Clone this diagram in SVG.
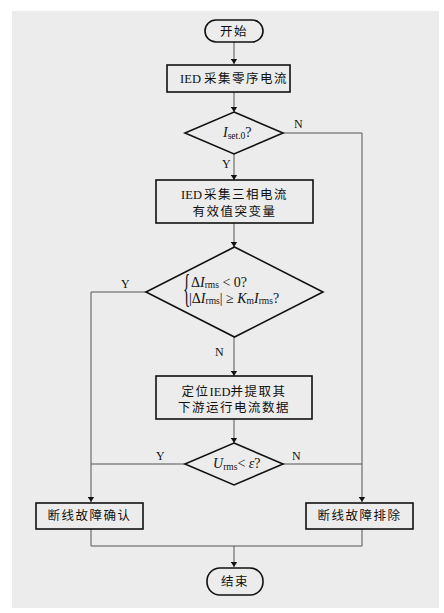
<svg xmlns="http://www.w3.org/2000/svg" width="444" height="613" viewBox="0 0 444 613">
<style>
.node{fill:none;stroke:#111;stroke-width:1.6}
.con{fill:none;stroke:#555;stroke-width:1}
.cn{font-family:"Liberation Serif","Noto Sans CJK SC",serif;font-size:12.5px;fill:#111;letter-spacing:1.5px}
.lat{letter-spacing:0}
.lb{font-family:"Liberation Serif",serif;font-size:12px;fill:#111}
.m{font-family:"Liberation Serif",serif;font-size:14px;fill:#111}
.it{font-style:italic}
.sub{font-size:9.5px}
</style>
<defs>
<marker id="ar" viewBox="0 0 8 10" refX="8" refY="5" markerWidth="5" markerHeight="7" orient="auto" markerUnits="userSpaceOnUse">
<path d="M0,0 L8,5 L0,10 z" fill="#111"/>
</marker>
</defs>
<rect x="12" y="11" width="427" height="597" fill="#ececec"/>
<g id="connectors">
<line class="con" x1="234" y1="42" x2="234" y2="64" marker-end="url(#ar)"/>
<line class="con" x1="234" y1="92" x2="234" y2="112" marker-end="url(#ar)"/>
<polyline class="con" points="283,133 362,133 362,502" marker-end="url(#ar)"/>
<line class="con" x1="234" y1="154" x2="234" y2="180" marker-end="url(#ar)"/>
<line class="con" x1="234" y1="223" x2="234" y2="247" marker-end="url(#ar)"/>
<polyline class="con" points="146,292 91,292 91,502" marker-end="url(#ar)"/>
<line class="con" x1="234" y1="337" x2="234" y2="376" marker-end="url(#ar)"/>
<line class="con" x1="234" y1="419" x2="234" y2="443" marker-end="url(#ar)"/>
<line class="con" x1="185" y1="464" x2="91" y2="464"/>
<line class="con" x1="283" y1="464" x2="362" y2="464"/>
<polyline class="con" points="91,529 91,546 362,546 362,529"/>
<line class="con" x1="234" y1="546" x2="234" y2="567" marker-end="url(#ar)"/>
<text class="lb" x="294" y="128">N</text>
<text class="lb" x="222" y="168">Y</text>
<text class="lb" x="121" y="288">Y</text>
<text class="lb" x="215" y="356">N</text>
<text class="lb" x="156" y="460">Y</text>
<text class="lb" x="292" y="460">N</text>
</g>
<g id="start">
<rect class="node" x="205" y="20" width="58" height="22" rx="11"/>
<text class="cn" x="234" y="35.5" text-anchor="middle">开始</text>
</g>
<g id="collect0">
<rect class="node" x="167" y="65" width="123" height="27"/>
<text class="cn" x="234" y="83" text-anchor="middle"><tspan class="lat">IED</tspan><tspan dx="3">采集零序电流</tspan></text>
</g>
<g id="dec1">
<polygon class="node" points="234,112 283,133 234,154 185,133"/>
<text class="m" x="223" y="137"><tspan class="it">I</tspan><tspan class="sub" dy="2">set.0</tspan><tspan dy="-2">?</tspan></text>
</g>
<g id="collect3">
<rect class="node" x="156" y="180" width="157" height="43"/>
<text class="cn" x="234.5" y="199" text-anchor="middle"><tspan class="lat">IED</tspan><tspan dx="2">采集三相电流</tspan></text>
<text class="cn" x="234.5" y="216" text-anchor="middle">有效值突变量</text>
</g>
<g id="dec2">
<polygon class="node" points="234.5,247 323,292 234.5,337 146,292"/>
<text x="183" y="302" style="font-family:'Liberation Serif',serif;font-size:40px;fill:#111" transform="translate(183 302) scale(0.38 1) translate(-183 -302)">{</text>
<text class="m" x="191" y="287">Δ<tspan class="it">I</tspan><tspan class="sub" dy="1">rms</tspan><tspan dy="-1"> &lt; 0?</tspan></text>
<text class="m" x="189" y="303">|Δ<tspan class="it">I</tspan><tspan class="sub" dy="1">rms</tspan><tspan dy="-1">| ≥ </tspan><tspan class="it">K</tspan><tspan class="sub" dy="1">m</tspan><tspan class="it" dy="-1">I</tspan><tspan class="sub" dy="1">rms</tspan><tspan dy="-1">?</tspan></text>
</g>
<g id="locate">
<rect class="node" x="156" y="376" width="156" height="43"/>
<text class="cn" x="234" y="396" text-anchor="middle">定位<tspan class="lat">IED</tspan>并提取其</text>
<text class="cn" x="234" y="412" text-anchor="middle">下游运行电流数据</text>
</g>
<g id="dec3">
<polygon class="node" points="234,443 283,464 234,485 185,464"/>
<text class="m" x="213" y="468"><tspan class="it">U</tspan><tspan class="sub" dy="2">rms</tspan><tspan dy="-2">&lt; </tspan><tspan class="it">ε</tspan>?</text>
</g>
<g id="confirm">
<rect class="node" x="36" y="503" width="107" height="26"/>
<text class="cn" x="89.5" y="520" text-anchor="middle">断线故障确认</text>
</g>
<g id="exclude">
<rect class="node" x="306" y="503" width="107" height="26"/>
<text class="cn" x="359.5" y="520" text-anchor="middle">断线故障排除</text>
</g>
<g id="end">
<rect class="node" x="207" y="568" width="56" height="27" rx="13"/>
<text class="cn" x="235" y="586" text-anchor="middle">结束</text>
</g>
</svg>
